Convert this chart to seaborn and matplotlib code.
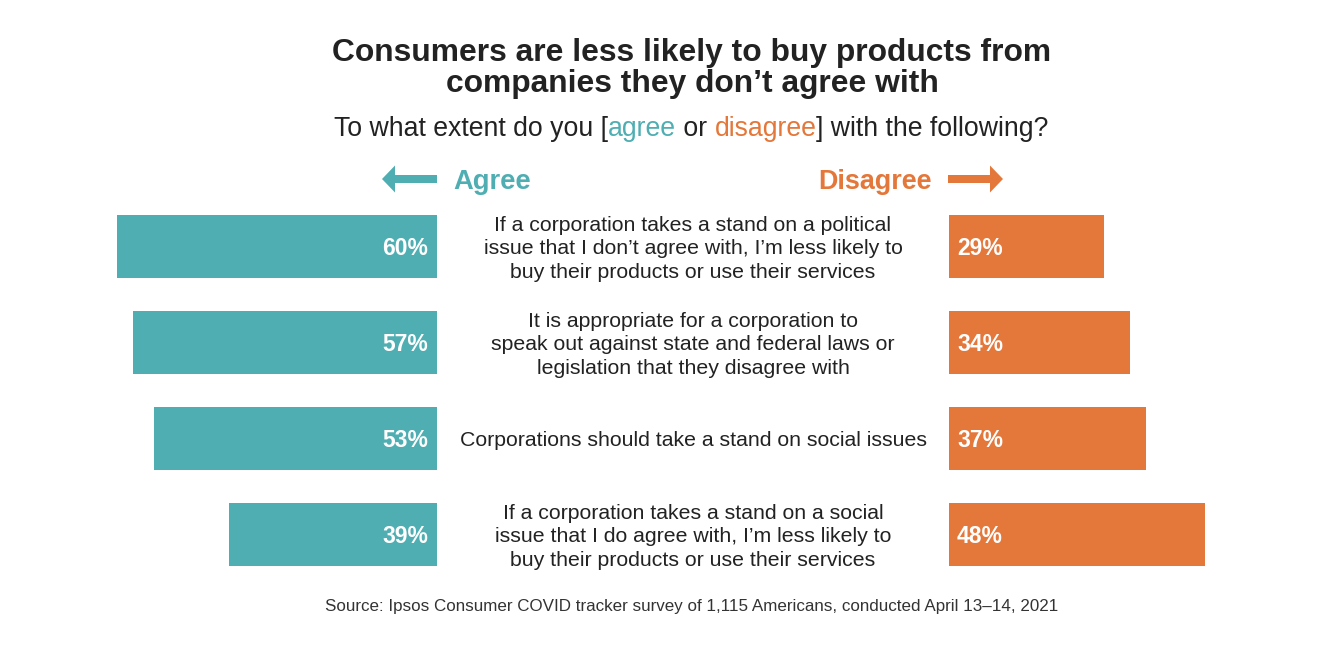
import matplotlib
matplotlib.use('Agg')
import matplotlib.pyplot as plt
from matplotlib.patches import FancyArrow
import seaborn as sns
import pandas as pd

# data
statements = [
    "If a corporation takes a stand on a political\nissue that I don\u2019t agree with, I\u2019m less likely to\nbuy their products or use their services",
    "It is appropriate for a corporation to\nspeak out against state and federal laws or\nlegislation that they disagree with",
    "Corporations should take a stand on social issues",
    "If a corporation takes a stand on a social\nissue that I do agree with, I\u2019m less likely to\nbuy their products or use their services",
]
agree = [60, 57, 53, 39]
disagree = [29, 34, 37, 48]

TEAL = '#4FAEB2'
ORANGE = '#E4773A'
DARK = '#222222'

df = pd.DataFrame({'statement': statements, 'agree': agree, 'disagree': disagree})

sns.set_theme(style='white')
plt.rcParams['font.family'] = ['Liberation Sans', 'DejaVu Sans']

W, H = 1318, 646
fig = plt.figure(figsize=(W / 100, H / 100), dpi=100)
fig.patch.set_facecolor('white')

PX = 5.333  # pixels per percent
top, bottom = 198.5, 582.5
ax_l = fig.add_axes([0, 1 - bottom / H, 437 / W, (bottom - top) / H])
ax_r = fig.add_axes([949 / W, 1 - bottom / H, (W - 949) / W, (bottom - top) / H])

sns.barplot(data=df, x='agree', y='statement', orient='h', color=TEAL,
            saturation=1, width=0.656, linewidth=0, ax=ax_l)
sns.barplot(data=df, x='disagree', y='statement', orient='h', color=ORANGE,
            saturation=1, width=0.656, linewidth=0, ax=ax_r)

ax_l.set_xlim(437 / PX, 0)
ax_r.set_xlim(0, (W - 949) / PX)
for ax in (ax_l, ax_r):
    ax.set_ylim(3.5, -0.5)
    ax.axis('off')

# overlay axes in pixel units for text and arrows
ov = fig.add_axes([0, 0, 1, 1], zorder=5)
ov.set_xlim(0, W)
ov.set_ylim(H, 0)
ov.axis('off')
ov.patch.set_alpha(0)

row_y = [246.5, 342.5, 438.5, 534.5]
for i, (a, d) in enumerate(zip(agree, disagree)):
    ov.text(428, row_y[i] + 2, f"{a}%", ha='right', va='center', color='white',
            fontsize=16.5, fontweight='bold')
    ov.text(957, row_y[i] + 2, f"{d}%", ha='left', va='center', color='white',
            fontsize=16.5, fontweight='bold')
    ov.text(693, row_y[i] + 2.5, statements[i], ha='center', va='center',
            color=DARK, fontsize=15.3, linespacing=1.3)

# titles
ov.text(692, 53, "Consumers are less likely to buy products from",
        ha='center', va='center', fontsize=22.9, fontweight='bold', color=DARK)
ov.text(692, 84, "companies they don\u2019t agree with",
        ha='center', va='center', fontsize=22.9, fontweight='bold', color=DARK)

# subtitle with coloured words
pieces = [("To what extent do you [", DARK), ("agree", TEAL), (" or ", DARK),
          ("disagree", ORANGE), ("] with the following?", DARK)]
t = ov.text(334, 142, pieces[0][0], ha='left', va='bottom',
            fontsize=19.2, color=pieces[0][1])
for txt, col in pieces[1:]:
    t = ov.annotate(txt, xy=(1, 0), xycoords=t, ha='left', va='bottom',
                    fontsize=19.2, color=col)

# legend arrows and labels
ov.add_patch(FancyArrow(437, 179, -55, 0, width=8, head_width=27,
                        head_length=13, length_includes_head=True,
                        color=TEAL, lw=0))
ov.text(453, 182, "Agree", ha='left', va='center', fontsize=19.7,
        fontweight='bold', color=TEAL)
ov.add_patch(FancyArrow(948, 179, 55, 0, width=8, head_width=27,
                        head_length=13, length_includes_head=True,
                        color=ORANGE, lw=0))
ov.text(932, 182, "Disagree", ha='right', va='center', fontsize=19.4,
        fontweight='bold', color=ORANGE)

ov.text(692, 607, "Source: Ipsos Consumer COVID tracker survey of 1,115 Americans, "
        "conducted April 13\u201314, 2021", ha='center', va='center',
        fontsize=12.27, color='#333333')

fig.savefig('out.png', dpi=100, facecolor='white')
